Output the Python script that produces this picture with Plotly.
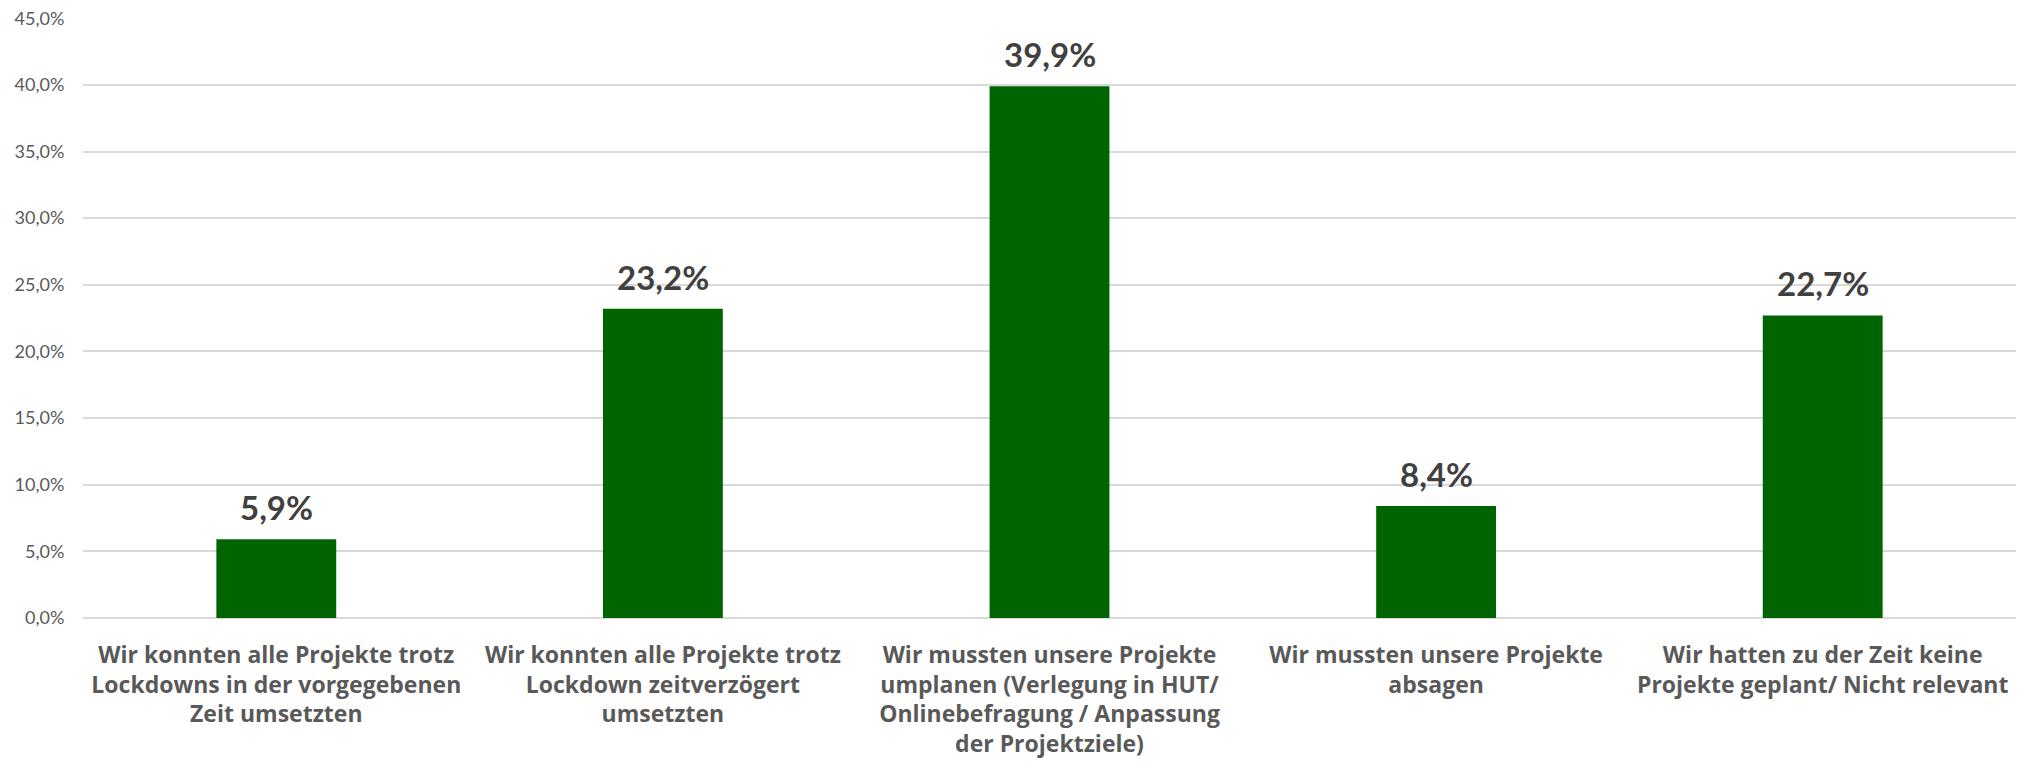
import plotly.graph_objects as go

categories = [
    "Wir konnten alle Projekte trotz<br>Lockdowns in der vorgegebenen<br>Zeit umsetzten",
    "Wir konnten alle Projekte trotz<br>Lockdown zeitverzögert<br>umsetzten",
    "Wir mussten unsere Projekte<br>umplanen (Verlegung in HUT/<br>Onlinebefragung / Anpassung<br>der Projektziele)",
    "Wir mussten unsere Projekte<br>absagen",
    "Wir hatten zu der Zeit keine<br>Projekte geplant/ Nicht relevant",
]
shares = [0.059, 0.232, 0.399, 0.084, 0.227]
y_ticks = [0, 0.05, 0.10, 0.15, 0.20, 0.25, 0.30, 0.35, 0.40, 0.45]
xpos = list(range(len(categories)))

fig = go.Figure(go.Bar(
    x=xpos,
    y=shares,
    marker=dict(color="#006400", line=dict(width=0)),
    width=0.31,
    hovertemplate="%{y:.1%}<extra></extra>",
))

# value labels sit a little higher above the bars than plotly's own outside text
for x, v in zip(xpos, shares):
    fig.add_annotation(
        x=x, y=v, text=f"{v * 100:.1f}%".replace(".", ","),
        showarrow=False, yanchor="bottom", yshift=10,
        font=dict(family="Lato", size=33, color="#404040", weight="bold"),
    )

# page body has an 8px default margin, so margins are trimmed by that
fig.update_layout(
    width=2033, height=771,
    margin=dict(l=75, r=25, t=10, b=161),
    plot_bgcolor="white", paper_bgcolor="white",
    separators=",.",
    showlegend=False,
)
fig.update_xaxes(
    tickmode="array",
    tickvals=xpos,
    ticktext=categories,
    tickangle=0,
    range=[-0.5, 4.5],
    showgrid=False,
    showline=False,
    automargin=False,
    ticks="outside", ticklen=16, tickcolor="rgba(0,0,0,0)",
    tickfont=dict(family="Open Sans", size=23, color="#595959", weight="bold"),
)
fig.update_yaxes(
    range=[0, 0.4502],
    tickvals=y_ticks,
    tickformat=".1%",
    showgrid=True, gridcolor="#d9d9d9", gridwidth=1.5,
    zeroline=True, zerolinecolor="#d9d9d9", zerolinewidth=1.5,
    showline=False,
    automargin=False,
    ticklabeloverflow="allow",
    ticks="outside", ticklen=14, tickcolor="rgba(0,0,0,0)",
    tickfont=dict(family="Lato", size=18, color="#595959"),
)

fig.write_html("out.html")
